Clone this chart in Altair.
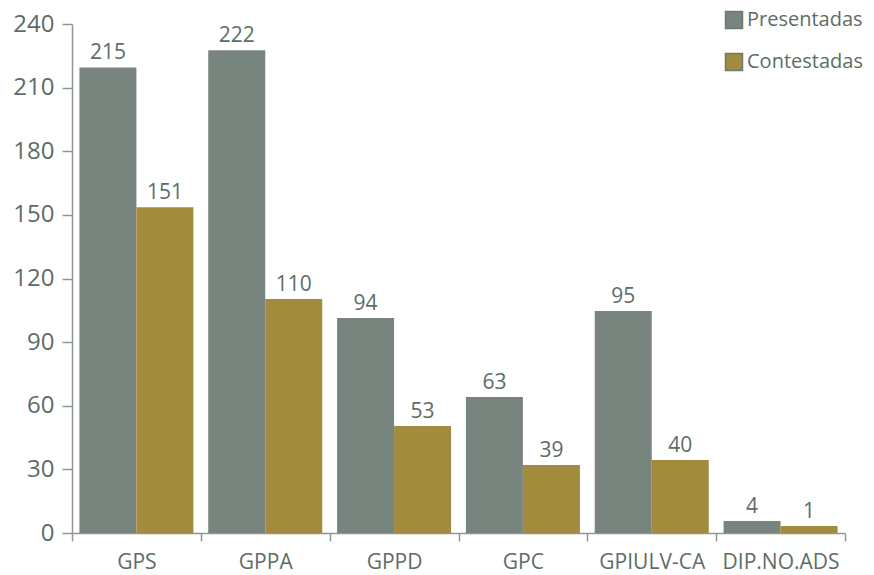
import altair as alt
import pandas as pd

categories = ["GPS", "GPPA", "GPPD", "GPC", "GPIULV-CA", "DIP.NO.ADS"]
series = ["Presentadas", "Contestadas"]
# bar heights as drawn in the reference
presentadas_bar = [219.5, 227.6, 101.4, 64.1, 104.7, 5.7]
contestadas_bar = [153.6, 110.3, 50.4, 32.1, 34.4, 3.3]
# value labels printed above the bars
presentadas_label = ["215", "222", "94", "63", "95", "4"]
contestadas_label = ["151", "110", "53", "39", "40", "1"]

rows = []
for i, c in enumerate(categories):
    rows.append({"cat": c, "serie": series[0], "v": presentadas_bar[i], "lab": presentadas_label[i]})
    rows.append({"cat": c, "serie": series[1], "v": contestadas_bar[i], "lab": contestadas_label[i]})
df = pd.DataFrame(rows)

FONT = "Open Sans"
TXT = "#5d6d66"
AX = "#8c9892"
colors = ["#78857e", "#a38b3e"]

x = alt.X("cat:N", sort=categories, title=None,
          scale=alt.Scale(paddingInner=0, paddingOuter=0),
          axis=alt.Axis(labelAngle=0, tickBand="extent", domainColor=AX, domainWidth=1.5,
                        tickColor=AX, tickWidth=1.5, tickSize=8, labelFontSize=21,
                        labelColor=TXT, labelFont=FONT, labelPadding=10))
xo = alt.XOffset("serie:N", sort=series, scale=alt.Scale(paddingOuter=0.13, paddingInner=0))
y = alt.Y("v:Q", title=None,
          scale=alt.Scale(domain=[0, 240], nice=False),
          axis=alt.Axis(values=list(range(0, 241, 30)), grid=False, domainColor=AX, domainWidth=1.5,
                        tickColor=AX, tickWidth=1.5, tickSize=10, labelFontSize=24,
                        labelColor=TXT, labelFont=FONT, labelPadding=8))

bars = alt.Chart(df).mark_bar().encode(
    x=x, xOffset=xo, y=y,
    color=alt.Color("serie:N", sort=series, title=None,
                    scale=alt.Scale(domain=series, range=colors),
                    legend=alt.Legend(orient="none", legendX=652, legendY=-14,
                                      symbolType="square", symbolSize=289,
                                      symbolStrokeColor="#6b7a72", symbolStrokeWidth=1.5,
                                      labelFontSize=20, labelFont=FONT, labelColor=TXT,
                                      labelOffset=3, rowPadding=18)),
)
text = alt.Chart(df).mark_text(baseline="bottom", dy=-4, fontSize=21, font=FONT, color=TXT).encode(
    x=x, xOffset=xo, y=y, text="lab:N"
)

chart = alt.layer(bars, text).properties(
    width=773, height=509,
    autosize=alt.AutoSizeParams(type="none"),
    padding={"left": 64, "top": 16, "right": 21, "bottom": 40},
).configure_view(stroke=None)

chart.save("out.html", embed_options={"renderer": "svg", "actions": False})
